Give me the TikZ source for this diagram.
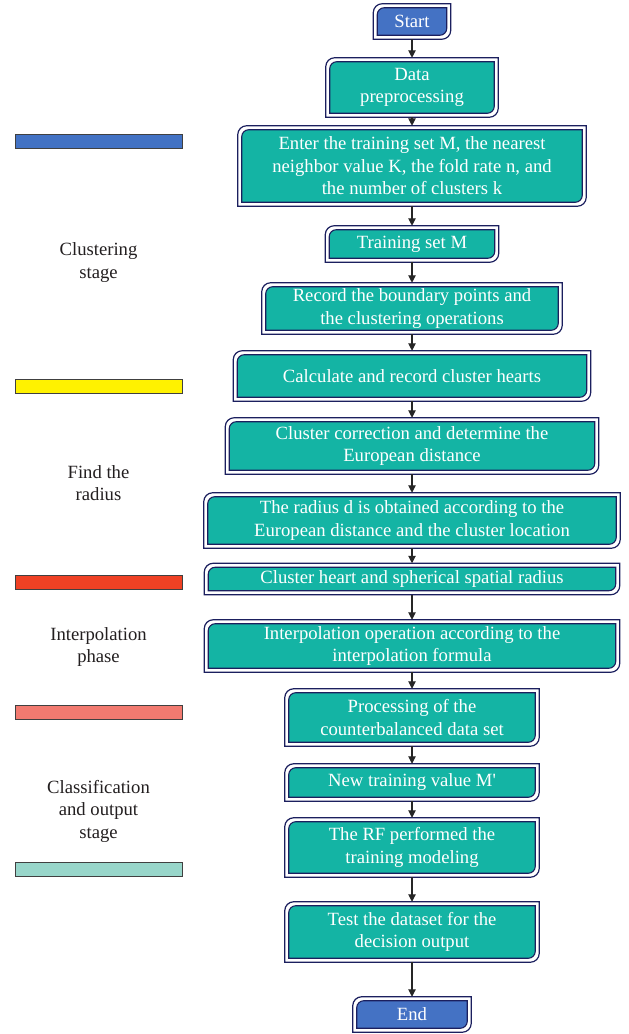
\documentclass[tikz,border=0pt]{standalone}
\usepackage{fontspec}
\setmainfont{Liberation Serif}
\usetikzlibrary{arrows.meta,backgrounds}

\definecolor{boxteal}{RGB}{20,180,164}
\definecolor{boxnavy}{RGB}{27,31,94}
\definecolor{termblue}{RGB}{68,114,196}
\definecolor{barblue}{RGB}{66,114,196}
\definecolor{baryellow}{RGB}{255,242,0}
\definecolor{barred}{RGB}{239,65,36}
\definecolor{barsalmon}{RGB}{242,122,112}
\definecolor{barteal}{RGB}{152,214,202}
\definecolor{labelgray}{RGB}{35,31,32}

\pgfdeclarelayer{paper}
\pgfsetlayers{paper,background,main}

\tikzset{
  x=0.75pt, y=0.75pt,
  txt/.style={font=\fontsize{14}{16.9}\selectfont},
  fb/.style 2 args={txt, inner sep=0pt, align=center, text=white,
    minimum width=#1*0.75pt, minimum height=#2*0.75pt},
  phasebar/.style={draw=black!75, line width=0.6pt, inner sep=0pt,
    minimum width=167*0.75pt, minimum height=14*0.75pt},
  phaselabel/.style={txt, align=center, text=labelgray},
  flow/.style={draw=black!85, line width=0.8pt,
    -{Triangle[length=5.5pt,width=5.5pt]}, shorten <=3pt, shorten >=3pt},
}

% double frame: white outer shell and coloured inner box,
% both with the top-left and bottom-right corners rounded
\newcommand\flowframe[2]{%
  \begin{pgfonlayer}{background}
    \draw[boxnavy, line width=0.9pt, fill=white]
      ([shift={(-4,-4)}]#1.south west)
      -- ([shift={(-4,-5)}]#1.north west)
      arc[start angle=180, end angle=90, radius=6.75pt]
      -- ([shift={(4,4)}]#1.north east)
      -- ([shift={(4,5)}]#1.south east)
      arc[start angle=0, end angle=-90, radius=6.75pt]
      -- cycle;
    \draw[boxnavy, line width=0.8pt, fill=#2]
      (#1.south west)
      -- ([shift={(0,-7)}]#1.north west)
      arc[start angle=180, end angle=90, radius=5.25pt]
      -- (#1.north east)
      -- ([shift={(0,7)}]#1.south east)
      arc[start angle=0, end angle=-90, radius=5.25pt]
      -- cycle;
  \end{pgfonlayer}}

\begin{document}
\begin{tikzpicture}
\begin{pgfonlayer}{paper}
  \fill[white] (0,0) rectangle (628,-1034);
\end{pgfonlayer}
\useasboundingbox (0,0) rectangle (628,-1034);

% main flow
\node[fb={69}{27}]  (start)  at (412,-21.5) {Start};
\node[fb={164}{51}] (pre)    at (412,-87.5) {Data\\preprocessing};
\node[fb={340}{72}] (enter)  at (412,-166)  {Enter the training set M, the nearest\\neighbor value K, the fold rate n, and\\the number of clusters k};
\node[fb={165}{28}] (trainM) at (412,-244)  {Training set M};
\node[fb={292}{43}] (record) at (412,-308.5){Record the boundary points and\\the clustering operations};
\node[fb={349}{42}] (calc)   at (412,-376)  {Calculate and record cluster hearts};
\node[fb={365}{48}] (corr)   at (412,-446)  {Cluster correction and determine the\\European distance};
\node[fb={408}{47}] (radius) at (412,-520.5){The radius d is obtained according to the\\European distance and the cluster location};
\node[fb={407}{23}] (heart)  at (412,-579)  {Cluster heart and spherical spatial radius};
\node[fb={407}{44}] (interp) at (412,-646)  {Interpolation operation according to the\\interpolation formula};
\node[fb={246}{49}] (proc)   at (412,-717.5){Processing of the\\counterbalanced data set};
\node[fb={246}{29}] (newM)   at (412,-782.5){New training value M\textquotesingle};
\node[fb={246}{51}] (rf)     at (412,-847.5){The RF performed the\\training modeling};
\node[fb={246}{52}] (test)   at (412,-932)  {Test the dataset for the\\decision output};
\node[fb={110}{27}] (end)    at (412,-1014.5){End};

\flowframe{start}{termblue}
\foreach \n in {pre,enter,trainM,record,calc,corr,radius,heart,interp,proc,newM,rf,test}
  {\flowframe{\n}{boxteal}}
\flowframe{end}{termblue}

\foreach \a/\b in {start/pre,pre/enter,enter/trainM,trainM/record,record/calc,
  calc/corr,corr/radius,radius/heart,heart/interp,interp/proc,proc/newM,
  newM/rf,rf/test,test/end}
  {\draw[flow] (\a.south) -- (\b.north);}

% phase legend
\node[phasebar, fill=barblue]   (bar1) at (98.5,-141) {};
\node[phaselabel] (lab1) at (98.5,-262.5) {Clustering\\stage};
\node[phasebar, fill=baryellow] (bar2) at (98.5,-386) {};
\node[phaselabel] (lab2) at (98.5,-483) {Find the\\radius};
\node[phasebar, fill=barred]    (bar3) at (98.5,-582) {};
\node[phaselabel] (lab3) at (98.5,-647) {Interpolation\\phase};
\node[phasebar, fill=barsalmon] (bar4) at (98.5,-712) {};
\node[phaselabel] (lab4) at (98.5,-811) {Classification\\and output\\stage};
\node[phasebar, fill=barteal]   (bar5) at (98.5,-869) {};
\end{tikzpicture}
\end{document}
